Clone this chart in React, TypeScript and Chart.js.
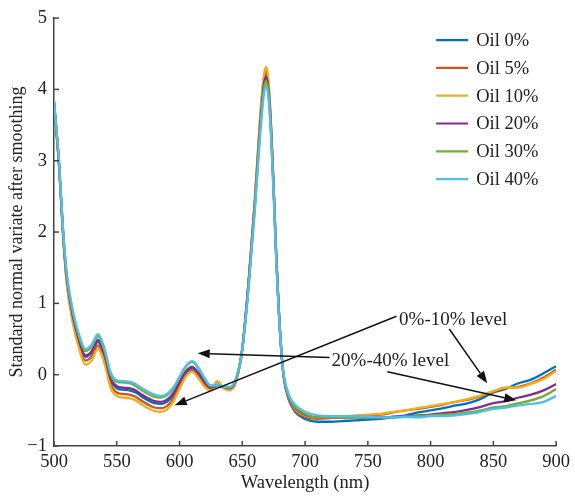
import React, { useEffect, useRef } from 'react';
import { Chart, registerables } from 'chart.js';
Chart.register(...registerables);

const wavelengths = [500,504,507,510,515,520,525,530,535,540,545,550,555,560,565,570,575,580,585,590,595,600,605,610,615,620,625,630,635,640,645,650,655,660,664,667,669,671,673,675,677,679,681,683,687,692,700,710,720,730,740,750,760,770,780,790,800,810,820,830,840,850,860,870,880,890,900];

const oil0 = [3.82,2.95,2.04,1.36,0.8,0.46,0.25,0.31,0.46,0.27,-0.08,-0.19,-0.21,-0.22,-0.25,-0.31,-0.36,-0.4,-0.41,-0.38,-0.29,-0.13,0.02,0.09,0.01,-0.12,-0.19,-0.16,-0.18,-0.2,-0.08,0.37,1.3,2.42,3.48,4.07,4.2,4.0,3.42,2.6,1.68,0.93,0.35,-0.04,-0.35,-0.52,-0.62,-0.66,-0.66,-0.65,-0.64,-0.63,-0.62,-0.6,-0.57,-0.53,-0.5,-0.47,-0.43,-0.4,-0.34,-0.25,-0.2,-0.12,-0.07,0.02,0.12];
const oil5 = [3.8,2.93,2.02,1.33,0.76,0.41,0.2,0.26,0.41,0.22,-0.13,-0.25,-0.27,-0.28,-0.31,-0.37,-0.42,-0.46,-0.47,-0.44,-0.34,-0.17,-0.01,0.06,-0.03,-0.15,-0.2,-0.1,-0.18,-0.21,-0.09,0.36,1.3,2.45,3.52,4.13,4.27,4.05,3.45,2.62,1.7,0.94,0.36,-0.03,-0.33,-0.5,-0.59,-0.62,-0.61,-0.6,-0.58,-0.57,-0.56,-0.53,-0.5,-0.48,-0.45,-0.42,-0.38,-0.35,-0.3,-0.24,-0.19,-0.17,-0.12,-0.04,0.07];
const oil10 = [3.8,2.92,2.0,1.3,0.72,0.36,0.14,0.2,0.36,0.17,-0.18,-0.3,-0.32,-0.33,-0.36,-0.42,-0.47,-0.51,-0.52,-0.49,-0.38,-0.2,-0.03,0.04,-0.05,-0.17,-0.22,-0.09,-0.19,-0.22,-0.1,0.35,1.3,2.48,3.56,4.18,4.32,4.1,3.48,2.65,1.72,0.95,0.37,-0.02,-0.31,-0.48,-0.57,-0.6,-0.6,-0.59,-0.57,-0.56,-0.55,-0.52,-0.5,-0.47,-0.44,-0.41,-0.38,-0.34,-0.29,-0.23,-0.18,-0.18,-0.13,-0.06,0.05];
const oil20 = [3.82,2.96,2.05,1.38,0.82,0.48,0.27,0.33,0.49,0.3,-0.05,-0.16,-0.18,-0.19,-0.22,-0.28,-0.33,-0.37,-0.38,-0.35,-0.26,-0.1,0.05,0.11,0.03,-0.1,-0.18,-0.15,-0.17,-0.19,-0.07,0.37,1.28,2.4,3.45,4.05,4.18,3.97,3.4,2.58,1.67,0.93,0.36,-0.02,-0.31,-0.46,-0.56,-0.6,-0.6,-0.6,-0.6,-0.6,-0.6,-0.59,-0.58,-0.57,-0.56,-0.54,-0.52,-0.49,-0.45,-0.4,-0.37,-0.32,-0.28,-0.22,-0.13];
const oil30 = [3.83,2.98,2.08,1.42,0.87,0.53,0.33,0.39,0.54,0.35,0.01,-0.1,-0.11,-0.12,-0.16,-0.22,-0.27,-0.31,-0.32,-0.29,-0.2,-0.04,0.11,0.18,0.09,-0.06,-0.16,-0.15,-0.17,-0.18,-0.06,0.36,1.25,2.35,3.38,3.98,4.12,3.92,3.35,2.55,1.65,0.92,0.35,-0.02,-0.3,-0.45,-0.55,-0.6,-0.6,-0.6,-0.6,-0.6,-0.6,-0.6,-0.59,-0.58,-0.57,-0.56,-0.55,-0.53,-0.5,-0.46,-0.44,-0.4,-0.36,-0.3,-0.2];
const oil40 = [3.85,3.0,2.1,1.45,0.9,0.56,0.36,0.42,0.57,0.38,0.04,-0.08,-0.09,-0.1,-0.13,-0.19,-0.24,-0.28,-0.3,-0.27,-0.18,-0.03,0.12,0.19,0.1,-0.05,-0.15,-0.15,-0.16,-0.17,-0.05,0.35,1.2,2.3,3.3,3.9,4.05,3.85,3.3,2.5,1.6,0.9,0.35,0.0,-0.28,-0.42,-0.52,-0.57,-0.58,-0.58,-0.58,-0.59,-0.6,-0.6,-0.59,-0.6,-0.58,-0.58,-0.57,-0.55,-0.52,-0.48,-0.46,-0.43,-0.41,-0.38,-0.3];

const seriesLabels = ['Oil 0%', 'Oil 5%', 'Oil 10%', 'Oil 20%', 'Oil 30%', 'Oil 40%'];
const seriesValues = [oil0, oil5, oil10, oil20, oil30, oil40];
const seriesColors = ['#0072BD', '#D95319', '#EDB120', '#7E2F8E', '#77AC30', '#4DBEEE'];

const xTitle = 'Wavelength (nm)';
const yTitle = 'Standard normal variate after smoothing';

const noteTexts = ['0%-10% level', '20%-40% level'];
const noteX = [818, 768];
const noteY = [0.77, 0.19];

// arrows in data units: [fromX, fromY, toX, toY]
const arrowSpecs = [
  [772.8, 0.82, 596.2, -0.43],
  [814.9, 0.64, 845.1, -0.12],
  [719.5, 0.24, 614.5, 0.30],
  [765.6, 0.04, 868.2, -0.36],
];

const FONT = '"Liberation Serif", "DejaVu Serif", serif';

const inwardTicks = {
  id: 'inwardTicks',
  afterDraw(chart: any) {
    const { ctx, chartArea, scales } = chart;
    ctx.save();
    ctx.strokeStyle = '#444';
    ctx.lineWidth = 1.5;
    scales.y.ticks.forEach((t: any) => {
      const y = scales.y.getPixelForValue(t.value);
      ctx.beginPath();
      ctx.moveTo(chartArea.left, y);
      ctx.lineTo(chartArea.left + 5, y);
      ctx.stroke();
    });
    scales.x.ticks.forEach((t: any) => {
      const x = scales.x.getPixelForValue(t.value);
      ctx.beginPath();
      ctx.moveTo(x, chartArea.bottom);
      ctx.lineTo(x, chartArea.bottom - 5);
      ctx.stroke();
    });
    ctx.restore();
  },
};

const legendAndNotes = {
  id: 'legendAndNotes',
  afterDraw(chart: any) {
    const { ctx, chartArea, scales } = chart;
    ctx.save();
    ctx.font = `18.5px ${FONT}`;
    ctx.textBaseline = 'middle';
    ctx.textAlign = 'left';
    chart.data.datasets.forEach((ds: any, i: number) => {
      const y = chartArea.top + 22 + i * 27.8;
      ctx.strokeStyle = ds.borderColor;
      ctx.lineWidth = 2.2;
      ctx.beginPath();
      ctx.moveTo(chartArea.right - 120, y);
      ctx.lineTo(chartArea.right - 88, y);
      ctx.stroke();
      ctx.fillStyle = '#222';
      ctx.fillText(ds.label, chartArea.right - 80, y + 1);
    });
    ctx.strokeStyle = '#111';
    ctx.fillStyle = '#111';
    ctx.lineWidth = 1.5;
    arrowSpecs.forEach(([fx, fy, tx, ty]) => {
      const x1 = scales.x.getPixelForValue(fx);
      const y1 = scales.y.getPixelForValue(fy);
      const x2 = scales.x.getPixelForValue(tx);
      const y2 = scales.y.getPixelForValue(ty);
      const ang = Math.atan2(y2 - y1, x2 - x1);
      const L = 12, W = 4.5;
      const bx = x2 - L * Math.cos(ang);
      const by = y2 - L * Math.sin(ang);
      ctx.beginPath();
      ctx.moveTo(x1, y1);
      ctx.lineTo(bx, by);
      ctx.stroke();
      ctx.beginPath();
      ctx.moveTo(x2, y2);
      ctx.lineTo(bx + W * Math.sin(ang), by - W * Math.cos(ang));
      ctx.lineTo(bx - W * Math.sin(ang), by + W * Math.cos(ang));
      ctx.closePath();
      ctx.fill();
    });
    ctx.font = `19px ${FONT}`;
    ctx.textAlign = 'center';
    ctx.fillStyle = '#222';
    noteTexts.forEach((t, i) => {
      ctx.fillText(t, scales.x.getPixelForValue(noteX[i]), scales.y.getPixelForValue(noteY[i]));
    });
    ctx.restore();
  },
};

export default function App() {
  const ref = useRef<HTMLCanvasElement>(null);
  useEffect(() => {
    if (!ref.current) return;
    const datasets = seriesLabels.map((label, i) => ({
      label,
      data: wavelengths.map((w, j) => ({ x: w, y: seriesValues[i][j] })),
      borderColor: seriesColors[i],
      backgroundColor: seriesColors[i],
      borderWidth: 2.3,
      pointRadius: 0,
      cubicInterpolationMode: 'monotone' as const,
      fill: false,
      order: seriesLabels.length - i,
    }));
    const chart = new Chart(ref.current, {
      type: 'line',
      data: { datasets },
      options: {
        animation: false,
        responsive: false,
        layout: { padding: { left: 0, top: 14, right: 18, bottom: 0 } },
        plugins: { legend: { display: false }, tooltip: { enabled: false } },
        scales: {
          x: {
            type: 'linear',
            min: 500,
            max: 900,
            afterFit: (s: any) => { s.height = 51; },
            ticks: { stepSize: 50, color: '#222', padding: 5, font: { family: FONT, size: 18.5 }, maxRotation: 0 },
            grid: { drawOnChartArea: false, drawTicks: false },
            border: { display: true, color: '#444', width: 1.5 },
            title: { display: true, text: xTitle, color: '#222', font: { family: FONT, size: 18.5 }, padding: { top: 0, bottom: 3 } },
          },
          y: {
            type: 'linear',
            min: -1,
            max: 5,
            afterFit: (s: any) => { s.width = 54; },
            ticks: {
              stepSize: 1, color: '#222', padding: 7, font: { family: FONT, size: 18.5 },
              callback: (v: any) => String(v).replace('-', '\u2212'),
            },
            grid: { drawOnChartArea: false, drawTicks: false },
            border: { display: true, color: '#444', width: 1.5 },
            title: { display: true, text: yTitle, color: '#222', font: { family: FONT, size: 18 }, padding: { top: 6, bottom: 0 } },
          },
        },
      },
      plugins: [inwardTicks, legendAndNotes],
    });
    return () => chart.destroy();
  }, []);
  return (
    <div style={{ position: 'absolute', left: 0, top: 0, width: 575, height: 497, background: '#fff' }}>
      <canvas ref={ref} width={575} height={497} />
    </div>
  );
}
